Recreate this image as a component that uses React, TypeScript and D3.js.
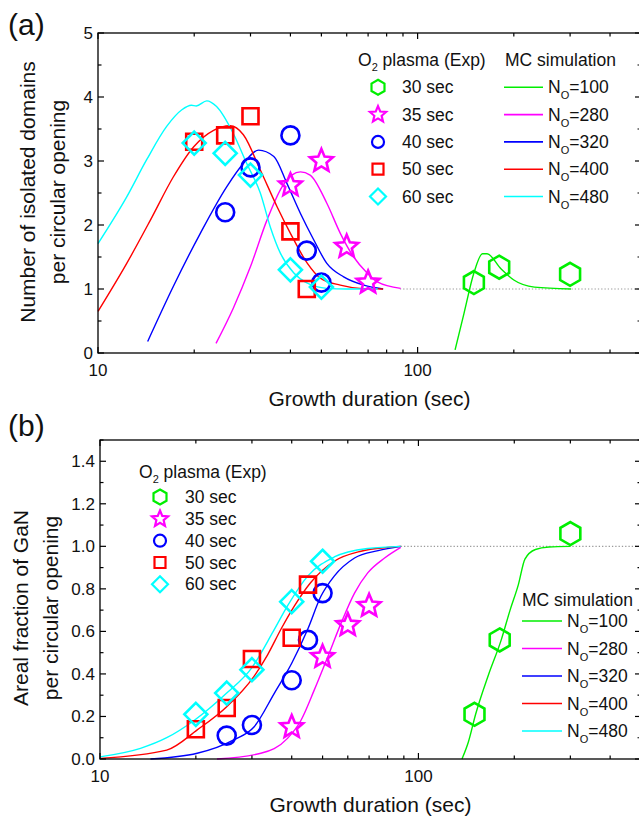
import React, { useRef, useEffect } from 'react';
import * as d3 from 'd3';

const W = 639;
const H = 817;
const FONT = '"Liberation Sans", Arial, Helvetica, sans-serif';

// series meta
const expLabels = ['30 sec', '35 sec', '40 sec', '50 sec', '60 sec'];
const simLabels = ['100', '280', '320', '400', '480'];
const seriesColors = ['#00ee00', '#ff00ff', '#0000ff', '#ff0000', '#00ffff'];
const markerShapes = ['hexagon', 'star', 'circle', 'square', 'diamond'];

// (a) number of isolated domains, experiment [time, value]
const domains30 = [[150, 1.1], [180, 1.34], [300, 1.23]];
const domains35 = [[40, 2.62], [50, 3.0], [60, 1.66], [70, 1.1]];
const domains40 = [[25, 2.2], [30, 2.9], [40, 3.4], [45, 1.6], [50, 1.1]];
const domains50 = [[20, 3.3], [25, 3.4], [30, 3.7], [40, 1.9], [45, 1.0]];
const domains60 = [[20, 3.28], [25, 3.12], [30, 2.78], [40, 1.3], [50, 1.03]];

// (a) MC simulation
const simDomains100 = [[131, 0.05], [139.7, 0.62], [150, 1.25], [159.5, 1.55], [165, 1.55], [182, 1.32], [200, 1.14], [232, 1.03], [302, 1.0]];
const simDomains280 = [[23.4, 0.15], [26.5, 0.7], [30, 1.35], [33.8, 2.08], [37.7, 2.6], [40.4, 2.78], [43, 2.83], [46.1, 2.78], [52, 2.34], [57.3, 1.87], [63.1, 1.5], [69.5, 1.25], [74.8, 1.11], [88.5, 1.01]];
const simDomains320 = [[14.3, 0.18], [17.2, 1.04], [20.9, 1.87], [25.3, 2.6], [28.5, 2.96], [31.8, 3.17], [35.5, 3.07], [39, 2.65], [43, 2.18], [47.3, 1.77], [52, 1.4], [58.7, 1.19], [67.9, 1.06], [78, 1.0]];
const simDomains400 = [[10, 0.65], [12.3, 1.4], [14.6, 2.08], [17.2, 2.75], [19.9, 3.22], [23, 3.48], [25.9, 3.55], [28.5, 3.41], [32.2, 2.86], [36.3, 2.29], [40, 1.87], [45.2, 1.4], [49.6, 1.17], [57.3, 1.06], [66, 1.01], [78, 1.0]];
const simDomains480 = [[10, 1.71], [12.3, 2.44], [14.2, 3.02], [16.4, 3.54], [18.3, 3.8], [19.6, 3.87], [20.3, 3.86], [21.9, 3.94], [23.5, 3.85], [26.5, 3.43], [29.2, 2.96], [32.2, 2.5], [34.6, 1.97], [37.2, 1.56], [41, 1.25], [45.2, 1.09], [52, 1.01], [60, 1.0], [75, 1.0]];

// (b) areal fraction of GaN, experiment
const fraction30 = [[150, 0.21], [180, 0.56], [300, 1.06]];
const fraction35 = [[40, 0.15], [50, 0.48], [60, 0.63], [70, 0.72]];
const fraction40 = [[25, 0.11], [30, 0.16], [40, 0.37], [45, 0.56], [50, 0.78]];
const fraction50 = [[20, 0.14], [25, 0.24], [30, 0.47], [40, 0.57], [45, 0.82]];
const fraction60 = [[20, 0.21], [25, 0.31], [30, 0.42], [40, 0.74], [50, 0.93]];

// (b) MC simulation
const simFraction100 = [[137, 0], [143.5, 0.08], [151, 0.207], [166, 0.396], [182, 0.56], [194, 0.7], [206, 0.82], [216, 0.94], [233, 0.985], [257, 0.997], [300, 1.0]];
const simFraction280 = [[23.3, 0], [32, 0.027], [38.8, 0.097], [42.7, 0.18], [47.1, 0.325], [51.9, 0.48], [57.2, 0.64], [63, 0.78], [69.3, 0.875], [78.3, 0.945], [88, 0.995]];
const simFraction320 = [[14.4, 0], [20.2, 0.027], [26.3, 0.09], [30.5, 0.152], [35.3, 0.31], [40, 0.45], [44.9, 0.61], [49.4, 0.765], [54.4, 0.86], [63, 0.945], [74.7, 0.98], [88, 1.0]];
const simFraction400 = [[10, 0.003], [16.2, 0.042], [20.2, 0.137], [25, 0.246], [30.5, 0.39], [33.6, 0.49], [37, 0.61], [40.8, 0.72], [45.9, 0.83], [54.4, 0.93], [66, 0.977], [80, 0.995], [88, 1.0]];
const simFraction480 = [[10, 0.01], [13.4, 0.05], [16.2, 0.1], [19.7, 0.18], [25, 0.31], [30, 0.43], [35, 0.6], [38.8, 0.72], [44.9, 0.86], [54.4, 0.95], [69.3, 0.99], [88, 1.0]];

const xTicksMajor = [10, 100];
const xTicksMinor = [20, 30, 40, 50, 60, 70, 80, 90, 200, 300, 400];
const yTicksA = [0, 1, 2, 3, 4, 5];
const yTicksB = [0, 0.2, 0.4, 0.6, 0.8, 1.0, 1.2, 1.4];

function markerPath(shape, r) {
  if (shape === 'circle') {
    return `M${r},0A${r},${r} 0 1,1 ${-r},0A${r},${r} 0 1,1 ${r},0Z`;
  }
  if (shape === 'square') {
    return `M${-r},${-r}H${r}V${r}H${-r}Z`;
  }
  if (shape === 'diamond') {
    return `M0,${-r}L${r},0L0,${r}L${-r},0Z`;
  }
  if (shape === 'hexagon') {
    const pts = d3.range(6).map(k => {
      const a = (-90 + 60 * k) * Math.PI / 180;
      return [r * Math.cos(a), r * Math.sin(a)];
    });
    return 'M' + pts.map(p => p.join(',')).join('L') + 'Z';
  }
  // star
  const pts = d3.range(10).map(k => {
    const a = (-90 + 36 * k) * Math.PI / 180;
    const rr = k % 2 === 0 ? r : r * 0.45;
    return [rr * Math.cos(a), rr * Math.sin(a)];
  });
  return 'M' + pts.map(p => p.join(',')).join('L') + 'Z';
}

// data markers size (radius-ish) per shape
const dataSize = { hexagon: 11.5, star: 12, circle: 9, square: 8, diamond: 11.5 };
const legendSize = { hexagon: 7.5, star: 8.5, circle: 6, square: 5.5, diamond: 8 };

function drawPanel(svg, cfg) {
  const { x, y, exp, sim, yTicks, yMinor, yFormat, label, labelY, yTitle, yTitleX, yTitleCy, xTitleY } = cfg;
  const [x0, x1] = x.range();
  const [y0, y1] = y.range();
  const g = svg.append('g');

  // reference line at 1
  g.append('line')
    .attr('x1', x(88)).attr('x2', x1)
    .attr('y1', y(1)).attr('y2', y(1))
    .attr('stroke', '#9a9a9a').attr('stroke-width', 1.2)
    .attr('stroke-dasharray', '1.3,2');

  const line = d3.line().x(d => x(d[0])).y(d => y(d[1])).curve(d3.curveMonotoneX);
  sim.forEach((s, i) => {
    g.append('path').datum(s)
      .attr('fill', 'none')
      .attr('stroke', seriesColors[i])
      .attr('stroke-width', 1.4)
      .attr('d', line);
  });

  exp.forEach((s, i) => {
    const shape = markerShapes[i];
    g.selectAll(null).data(s).enter().append('path')
      .attr('transform', d => `translate(${x(d[0])},${y(d[1])})`)
      .attr('d', markerPath(shape, dataSize[shape]))
      .attr('fill', 'none')
      .attr('stroke', seriesColors[i])
      .attr('stroke-width', 2.6)
      .attr('stroke-linejoin', 'miter');
  });

  // frame
  g.append('rect')
    .attr('x', x0).attr('y', y1)
    .attr('width', x1 - x0).attr('height', y0 - y1)
    .attr('fill', 'none').attr('stroke', '#000').attr('stroke-width', 1.3);

  // x ticks (bottom + top, inward)
  const xt = [...xTicksMajor.map(v => [v, 6]), ...xTicksMinor.map(v => [v, 3.5])];
  xt.forEach(([v, len]) => {
    g.append('line').attr('x1', x(v)).attr('x2', x(v)).attr('y1', y0).attr('y2', y0 - len)
      .attr('stroke', '#000').attr('stroke-width', 1.2);
    g.append('line').attr('x1', x(v)).attr('x2', x(v)).attr('y1', y1).attr('y2', y1 + len)
      .attr('stroke', '#000').attr('stroke-width', 1.2);
  });
  const yt = [...yTicks.map(v => [v, 6]), ...yMinor.map(v => [v, 3.5])];
  yt.forEach(([v, len]) => {
    g.append('line').attr('x1', x0).attr('x2', x0 + len).attr('y1', y(v)).attr('y2', y(v))
      .attr('stroke', '#000').attr('stroke-width', 1.2);
    g.append('line').attr('x1', x1).attr('x2', x1 - len).attr('y1', y(v)).attr('y2', y(v))
      .attr('stroke', '#000').attr('stroke-width', 1.2);
  });

  const txt = g.append('g').attr('font-family', FONT).attr('fill', '#111');
  xTicksMajor.forEach(v => {
    txt.append('text').attr('x', x(v)).attr('y', y0 + 22.5)
      .attr('text-anchor', 'middle').attr('font-size', 17).text(v);
  });
  yTicks.forEach(v => {
    txt.append('text').attr('x', x0 - 5).attr('y', y(v) + 6)
      .attr('text-anchor', 'end').attr('font-size', 17).text(yFormat(v));
  });

  txt.append('text').attr('x', (x0 + x1) / 2).attr('y', xTitleY)
    .attr('text-anchor', 'middle').attr('font-size', 21).text('Growth duration (sec)');
  yTitle.forEach((t, i) => {
    txt.append('text')
      .attr('transform', `translate(${yTitleX[i]},${yTitleCy}) rotate(-90)`)
      .attr('text-anchor', 'middle').attr('font-size', 21).text(t);
  });
  txt.append('text').attr('x', 8).attr('y', labelY).attr('font-size', 30).text(label);
  return g;
}

function expLegend(g, lx, ly, tx, mx, rows) {
  const t = g.append('text').attr('x', lx).attr('y', ly + 6)
    .attr('font-family', FONT).attr('font-size', 17.5).attr('fill', '#111');
  t.append('tspan').text('O');
  t.append('tspan').attr('font-size', 11).attr('dy', 5).text('2');
  t.append('tspan').attr('dy', -5).text(' plasma (Exp)');
  rows.forEach((ry, i) => {
    const shape = markerShapes[i];
    g.append('path')
      .attr('transform', `translate(${mx},${ry})`)
      .attr('d', markerPath(shape, legendSize[shape]))
      .attr('fill', 'none').attr('stroke', seriesColors[i]).attr('stroke-width', 2.2);
    g.append('text').attr('x', tx).attr('y', ry + 6)
      .attr('font-family', FONT).attr('font-size', 17.5).attr('fill', '#111')
      .text(expLabels[i]);
  });
}

function simLegend(g, lx, ly, l0, l1, tx, rows) {
  g.append('text').attr('x', lx).attr('y', ly + 6)
    .attr('font-family', FONT).attr('font-size', 17.5).attr('fill', '#111')
    .text('MC simulation');
  rows.forEach((ry, i) => {
    g.append('line').attr('x1', l0).attr('x2', l1).attr('y1', ry).attr('y2', ry)
      .attr('stroke', seriesColors[i]).attr('stroke-width', 1.6);
    const t = g.append('text').attr('x', tx).attr('y', ry + 6)
      .attr('font-family', FONT).attr('font-size', 17.5).attr('fill', '#111');
    t.append('tspan').text('N');
    t.append('tspan').attr('font-size', 11).attr('dy', 6).text('O');
    t.append('tspan').attr('dy', -6).text('=' + simLabels[i]);
  });
}

const App = () => {
  const svgRef = useRef(null);

  useEffect(() => {
    if (!svgRef.current) return;
    const svg = d3.select(svgRef.current);
    svg.selectAll('*').remove();

    const xA = d3.scaleLog().domain([10, 500]).range([98, 641]);
    const yA = d3.scaleLinear().domain([0, 5]).range([353, 33]);
    const gA = drawPanel(svg, {
      x: xA, y: yA,
      exp: [domains30, domains35, domains40, domains50, domains60],
      sim: [simDomains100, simDomains280, simDomains320, simDomains400, simDomains480],
      yTicks: yTicksA,
      yMinor: [0.5, 1.5, 2.5, 3.5, 4.5],
      yFormat: d3.format('d'),
      label: '(a)', labelY: 35,
      yTitle: ['Number of isolated domains', 'per circular opening'],
      yTitleX: [35, 65], yTitleCy: 192,
      xTitleY: 406,
    });
    expLegend(gA, 358, 60, 402, 378, [87.3, 114.6, 141.9, 169.2, 196.5]);
    simLegend(gA, 505, 60, 504, 543, 548, [87.3, 114.6, 141.9, 169.2, 196.5]);

    const xB = d3.scaleLog().domain([10, 500]).range([100, 641]);
    const yB = d3.scaleLinear().domain([0, 1.5]).range([759, 440]);
    const gB = drawPanel(svg, {
      x: xB, y: yB,
      exp: [fraction30, fraction35, fraction40, fraction50, fraction60],
      sim: [simFraction100, simFraction280, simFraction320, simFraction400, simFraction480],
      yTicks: yTicksB,
      yMinor: [0.1, 0.3, 0.5, 0.7, 0.9, 1.1, 1.3, 1.5],
      yFormat: d3.format('.1f'),
      label: '(b)', labelY: 436,
      yTitle: ['Areal fraction of GaN', 'per circular opening'],
      yTitleX: [28, 58], yTitleCy: 608,
      xTitleY: 812,
    });
    expLegend(gB, 139, 471.7, 185, 160, [497, 519, 540.7, 562.5, 584.3]);
    simLegend(gB, 522, 599.5, 522, 562, 567, [621, 648.5, 676, 703.5, 731]);
  }, []);

  return (
    <svg
      ref={svgRef}
      width={W}
      height={H}
      viewBox={`0 0 ${W} ${H}`}
      style={{ position: 'absolute', left: 0, top: 0, background: '#fff', display: 'block' }}
    />
  );
};

export default App;
